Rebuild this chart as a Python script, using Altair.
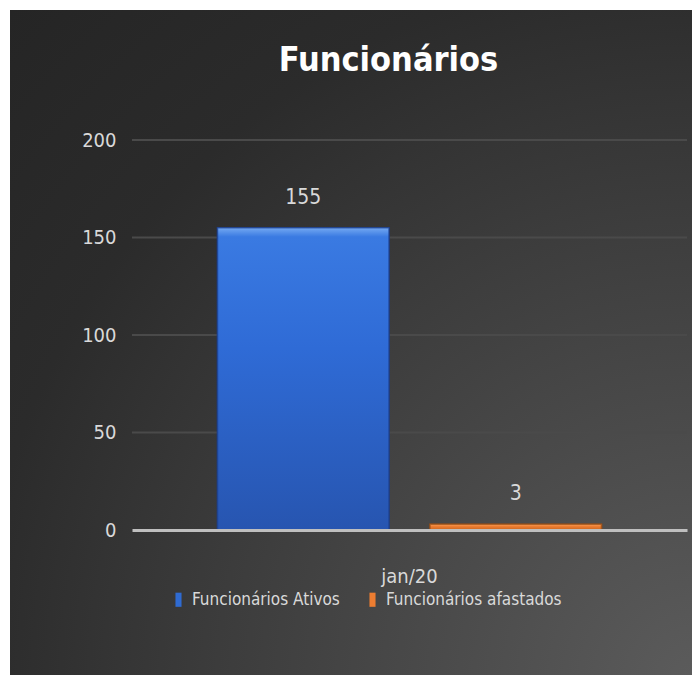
import altair as alt
import pandas as pd

months = ["jan/20"]
series = ["Funcionários Ativos", "Funcionários afastados"]
values = [155, 3]
colors = ["#2f6bd2", "#ed7d31"]
y_ticks = [0, 50, 100, 150, 200]

FONT = "DejaVu Sans Condensed, DejaVu Sans, sans-serif"
TXT = "#d9d9d9"

df = pd.DataFrame({"mes": months * len(series), "serie": series, "valor": values})
grid_df = pd.DataFrame({"valor": y_ticks[1:]})

W, H = 555, 390

bg = alt.Chart(pd.DataFrame({"a": [0]})).mark_rect(
    fill=alt.Gradient(
        gradient="radial",
        x1=1, y1=1, r1=0, x2=1, y2=1, r2=1.4,
        stops=[
            alt.GradientStop(color="#5c5c5c", offset=0),
            alt.GradientStop(color="#3c3c3c", offset=0.5),
            alt.GradientStop(color="#2b2b2b", offset=0.75),
            alt.GradientStop(color="#252525", offset=1),
        ],
    )
).encode(
    x=alt.value(-122), x2=alt.value(568), y=alt.value(-130), y2=alt.value(535)
)

yscale = alt.Scale(domain=[0, 200], nice=False)

grid = alt.Chart(grid_df).mark_rule(color="#4a4a4a", strokeWidth=2).encode(
    y=alt.Y("valor:Q", scale=yscale), x=alt.value(0), x2=alt.value(W)
)

xenc = alt.X("mes:N", title=None, sort=months,
             scale=alt.Scale(paddingInner=0, paddingOuter=0.2227),
             axis=alt.Axis(labelAngle=0, labelFont=FONT, labelFontSize=20,
                           labelColor=TXT, labelPadding=36, ticks=False,
                           domainColor="#bfbfbf", domainWidth=3, grid=False,
                           zindex=1))
yenc = alt.Y("valor:Q", title=None, scale=yscale,
             axis=alt.Axis(values=y_ticks, labelFont=FONT, labelFontSize=20,
                           labelColor=TXT, labelPadding=16, ticks=False,
                           domain=False, grid=False, zindex=1))
xoff = alt.XOffset("serie:N", sort=series,
                   scale=alt.Scale(paddingInner=0.193, paddingOuter=0))

bars = alt.Chart(df).mark_bar(strokeWidth=1.5, strokeOpacity=0.7).encode(
    x=xenc, y=yenc, xOffset=xoff,
    color=alt.Color("serie:N", sort=series,
                    scale=alt.Scale(domain=series, range=colors),
                    legend=alt.Legend(
                        title=None, orient="none", direction="horizontal",
                        legendX=38, legendY=451,
                        symbolType="M-0.43,-1H0.43V1H-0.43Z", symbolSize=200,
                        symbolStrokeWidth=0, labelFont=FONT, labelFontSize=17,
                        labelColor=TXT, labelOffset=5, columnPadding=24,
                        labelLimit=400)),
    stroke=alt.Stroke("serie:N", sort=series,
                      scale=alt.Scale(domain=series, range=["#1c3f8c", "#9a4f16"]),
                      legend=None),
)

shades = [
    [("#74a9f2", 0), ("#3a7ae2", 0.03), ("#2f6bd6", 0.4), ("#2755b0", 1)],
    [("#f7a25e", 0), ("#ed7d31", 0.4), ("#c9661f", 1)],
]
shade_layers = []
for s, stops in zip(series, shades):
    shade_layers.append(
        alt.Chart(df).transform_filter(alt.datum.serie == s).mark_bar(
            fill=alt.Gradient(
                gradient="linear", x1=0, y1=0, x2=0, y2=1,
                stops=[alt.GradientStop(color=c, offset=o) for c, o in stops],
            ),
            stroke="#1c3f8c" if s == series[0] else "#9a4f16",
            strokeWidth=1.5, strokeOpacity=0.7,
        ).encode(x=alt.X("mes:N", sort=months), y=alt.Y("valor:Q", scale=yscale),
                 xOffset=alt.XOffset("serie:N", sort=series))
    )

labels = alt.Chart(df).mark_text(
    font=FONT, fontSize=21, color=TXT, baseline="bottom", dy=-20
).encode(x=alt.X("mes:N", sort=months), y="valor:Q",
         xOffset=alt.XOffset("serie:N", sort=series), text="valor:Q")

chart = alt.layer(bg, grid, bars, *shade_layers, labels).properties(
    width=W, height=H,
    title=alt.TitleParams("Funcionários", font=FONT, fontSize=34,
                          fontWeight="bold", color="#ffffff", anchor="middle",
                          frame="group", offset=-68, dx=-21),
    autosize=alt.AutoSizeParams(type="none"),
    padding={"left": 124, "top": 132, "right": 5, "bottom": 145},
    background="#ffffff",
).configure_view(stroke=None)

chart.save("out.html", embed_options={"renderer": "svg", "actions": False})
